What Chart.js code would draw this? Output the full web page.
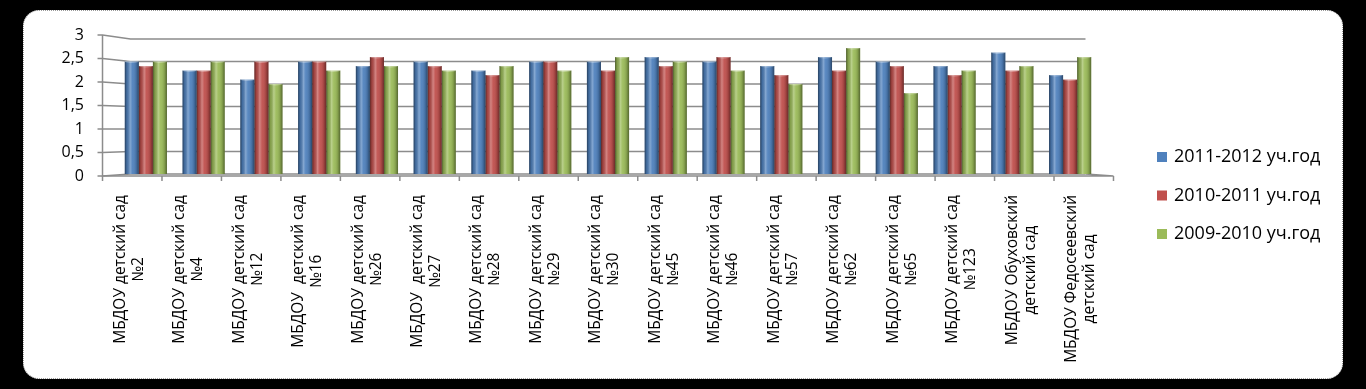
<!DOCTYPE html>
<html>
<head>
<meta charset="utf-8">
<script src="https://cdn.jsdelivr.net/npm/chart.js@4.4.0/dist/chart.umd.min.js"></script>
<style>
html, body { margin: 0; padding: 0; background: #000; width: 1366px; height: 389px; overflow: hidden; }
#panel { position: absolute; left: 23px; top: 10px; width: 1320px; height: 369px; background: #fff;
         border: 1px dotted #9a9a9a; border-radius: 16px; box-sizing: border-box; }
#wrap { position: absolute; left: 0; top: 0; }
</style>
</head>
<body>
<div id="panel"></div>
<div id="wrap"><canvas id="chart" width="1366" height="389"></canvas></div>
<script>
// подписи категорий (строки переноса как в оригинале)
var categories = [
    ['МБДОУ детский сад', '№2'],
    ['МБДОУ детский сад', '№4'],
    ['МБДОУ детский сад', '№12'],
    ['МБДОУ  детский сад', '№16'],
    ['МБДОУ детский сад', '№26'],
    ['МБДОУ  детский сад', '№27'],
    ['МБДОУ детский сад', '№28'],
    ['МБДОУ детский сад', '№29'],
    ['МБДОУ детский сад', '№30'],
    ['МБДОУ детский сад', '№45'],
    ['МБДОУ детский сад', '№46'],
    ['МБДОУ детский сад', '№57'],
    ['МБДОУ детский сад', '№62'],
    ['МБДОУ детский сад', '№65'],
    ['МБДОУ детский сад', '№123'],
    ['МБДОУ Обуховский', 'детский сад'],
    ['МБДОУ Федосеевский', 'детский сад']
];
var seriesNames = ['2011-2012 уч.год', '2010-2011 уч.год', '2009-2010 уч.год'];
var values2011 = [2.5, 2.3, 2.1, 2.5, 2.4, 2.5, 2.3, 2.5, 2.5, 2.6, 2.5, 2.4, 2.6, 2.5, 2.4, 2.7, 2.2];
var values2010 = [2.4, 2.3, 2.5, 2.5, 2.6, 2.4, 2.2, 2.5, 2.3, 2.4, 2.6, 2.2, 2.3, 2.4, 2.2, 2.3, 2.1];
var values2009 = [2.5, 2.5, 2.0, 2.3, 2.4, 2.3, 2.4, 2.3, 2.6, 2.5, 2.3, 2.0, 2.8, 1.8, 2.3, 2.4, 2.6];
var yTicks = [0, 0.5, 1, 1.5, 2, 2.5, 3];
var colors = ['#4F81BD', '#C0504D', '#9BBB59'];

var FONT = '"Open Sans", "Noto Sans", sans-serif';
var lineColor = '#8c8c8c';

// псевдо-3D: задняя стенка и передняя грань относительно области графика
function geo(chart) {
    var a = chart.chartArea;
    var cx = (a.left + a.right) / 2;
    var cy = 129;
    return {
        back: function(x) { return cx + (x - cx) * 0.9725; },
        front: function(x) { return cx + (x - cx) * 1.0295; },
        frontY: function(y) { return cy + (y - cy) * 1.0444; }
    };
}

var frame3d = {
    id: 'frame3d',
    beforeDatasetsDraw: function(chart) {
        var ctx = chart.ctx, a = chart.chartArea, y = chart.scales.y;
        var g = geo(chart);
        var bl = g.back(a.left), br = g.back(a.right);
        var fl = g.front(a.left), fr = g.front(a.right);
        ctx.save();
        ctx.strokeStyle = lineColor;
        ctx.lineWidth = 1.5;
        yTicks.forEach(function(v) {
            var yb = y.getPixelForValue(v), yf = g.frontY(yb);
            ctx.beginPath();
            ctx.moveTo(fl - 5, yf);
            ctx.lineTo(fl, yf);
            ctx.lineTo(bl, yb);
            ctx.lineTo(br, yb);
            ctx.stroke();
        });
        // передняя ось Y и пол
        var y0b = y.getPixelForValue(0), y3b = y.getPixelForValue(3);
        ctx.beginPath();
        ctx.moveTo(fl, g.frontY(y3b));
        ctx.lineTo(fl, g.frontY(y0b));
        ctx.lineTo(fr, g.frontY(y0b));
        ctx.lineTo(br, y0b);
        ctx.stroke();
        // деления оси X
        var slot = (a.right - a.left) / categories.length;
        for (var k = 0; k <= categories.length; k++) {
            var xf = g.front(a.left + k * slot);
            ctx.beginPath();
            ctx.moveTo(xf, g.frontY(y0b));
            ctx.lineTo(xf, g.frontY(y0b) + 5);
            ctx.stroke();
        }
        ctx.restore();
    },
    afterDatasetsDraw: function(chart) {
        var ctx = chart.ctx;
        ctx.save();
        chart.data.datasets.forEach(function(ds, di) {
            chart.getDatasetMeta(di).data.forEach(function(bar) {
                var l = bar.x - bar.width / 2, w = bar.width;
                var gr = ctx.createLinearGradient(l, 0, l + w, 0);
                gr.addColorStop(0, 'rgba(0,0,0,0.5)');
                gr.addColorStop(0.15, 'rgba(0,0,0,0.15)');
                gr.addColorStop(0.38, 'rgba(255,255,255,0.3)');
                gr.addColorStop(0.55, 'rgba(255,255,255,0.05)');
                gr.addColorStop(0.82, 'rgba(0,0,0,0.15)');
                gr.addColorStop(1, 'rgba(0,0,0,0.45)');
                ctx.fillStyle = gr;
                ctx.fillRect(l, bar.y, w, bar.base - bar.y);
                ctx.fillStyle = 'rgba(255,255,255,0.3)';
                ctx.beginPath();
                ctx.ellipse(bar.x, bar.y, w / 2, 1.5, 0, 0, Math.PI * 2);
                ctx.fill();
            });
        });
        ctx.restore();
    },
    afterDraw: function(chart) {
        var ctx = chart.ctx, y = chart.scales.y, x = chart.scales.x;
        var g = geo(chart);
        ctx.save();
        ctx.fillStyle = '#000';
        // подписи оси Y
        ctx.font = '16px ' + FONT;
        ctx.textAlign = 'right';
        ctx.textBaseline = 'middle';
        var fmt = new Intl.NumberFormat('ru-RU');
        yTicks.forEach(function(v) {
            ctx.fillText(fmt.format(v), 84, g.frontY(y.getPixelForValue(v)));
        });
        // подписи категорий, повернутые на 90°
        ctx.font = '15.5px ' + FONT;
        ctx.textAlign = 'center';
        categories.forEach(function(lines, i) {
            var cx = g.front(x.getPixelForValue(i)) - 3;
            var maxW = 0;
            lines.forEach(function(s) { maxW = Math.max(maxW, ctx.measureText(s).width); });
            ctx.save();
            ctx.translate(cx, 195 + maxW / 2);
            ctx.rotate(-Math.PI / 2);
            lines.forEach(function(s, j) {
                ctx.fillText(s, 0, (j - (lines.length - 1) / 2) * 18);
            });
            ctx.restore();
        });
        // легенда
        ctx.font = '18px ' + FONT;
        ctx.textAlign = 'left';
        chart.data.datasets.forEach(function(ds, di) {
            var yc = 157 + di * 38.5;
            ctx.fillStyle = ds.backgroundColor;
            ctx.fillRect(1157, yc - 5, 10, 10);
            ctx.fillStyle = '#000';
            ctx.fillText(ds.label, 1174, yc);
        });
        ctx.restore();
    }
};

var ctx = document.getElementById('chart').getContext('2d');
var myChart = new Chart(ctx, {
    type: 'bar',
    data: {
        labels: categories,
        datasets: [
            { label: seriesNames[0], data: values2011, backgroundColor: colors[0] },
            { label: seriesNames[1], data: values2010, backgroundColor: colors[1] },
            { label: seriesNames[2], data: values2009, backgroundColor: colors[2] }
        ]
    },
    options: {
        responsive: false,
        animation: false,
        locale: 'ru-RU',
        devicePixelRatio: 1,
        layout: { padding: { top: 39, right: 267, bottom: 0, left: 0 } },
        datasets: { bar: { barPercentage: 1, categoryPercentage: 0.73, borderWidth: 0 } },
        plugins: { legend: { display: false }, tooltip: { enabled: false } },
        scales: {
            x: {
                offset: true,
                grid: { display: false },
                border: { display: false },
                ticks: { display: false },
                afterFit: function(s) { s.height = 215; }
            },
            y: {
                min: 0,
                max: 3,
                ticks: { display: false, stepSize: 0.5 },
                grid: { display: false },
                border: { display: false },
                afterFit: function(s) { s.width = 117; }
            }
        }
    },
    plugins: [frame3d]
});
</script>
</body>
</html>
